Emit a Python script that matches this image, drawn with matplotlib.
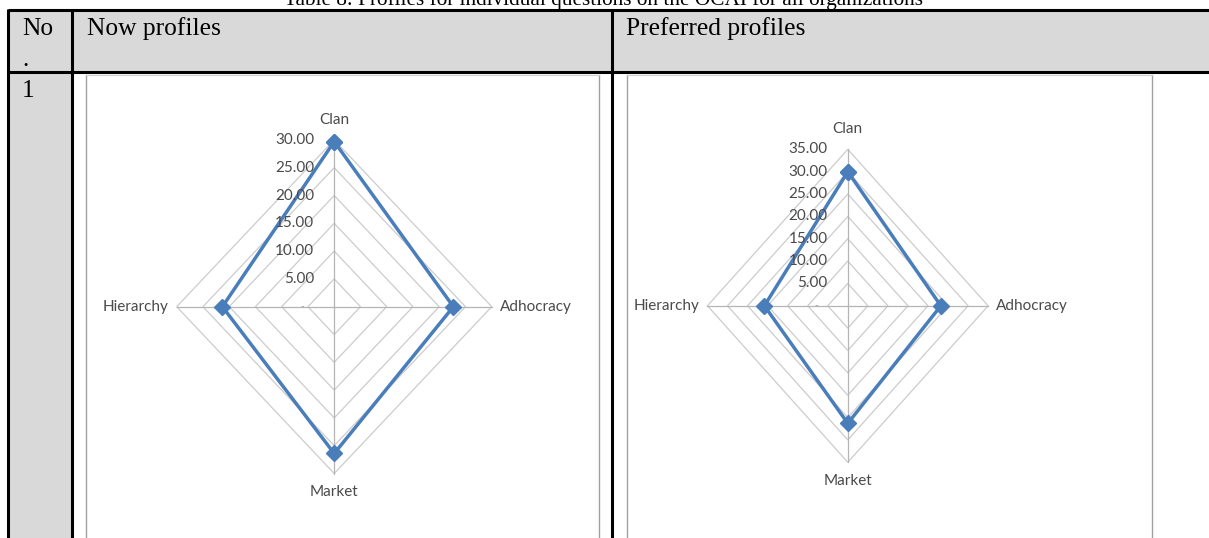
import numpy as np
import matplotlib
matplotlib.use("Agg")
import matplotlib.pyplot as plt
from matplotlib.patches import Rectangle, Polygon

# ---------------- data ----------------
categories = ["Clan", "Adhocracy", "Market", "Hierarchy"]
now_values = [29.7, 22.7, 26.4, 21.3]
preferred_values = [30.0, 23.2, 26.3, 20.8]
now_ticks = [5, 10, 15, 20, 25, 30]
preferred_ticks = [5, 10, 15, 20, 25, 30, 35]
now_tick_labels = ["5.00", "10.00", "15.00", "20.00", "25.00", "30.00"]
preferred_tick_labels = ["5.00", "10.00", "15.00", "20.00", "25.00", "30.00", "35.00"]
title_text = "Table 8: Profiles for individual questions on the OCAI for all organizations"
header_no = ["No", "."]
header_now = "Now profiles"
header_pref = "Preferred profiles"
row_no = "1"

W, H = 1209, 538
DPI = 100
fig = plt.figure(figsize=(W / DPI, H / DPI), dpi=DPI)
fig.patch.set_facecolor("white")

# ---------------- table background (pixel coords) ----------------
bg = fig.add_axes([0, 0, 1, 1])
bg.set_xlim(0, W)
bg.set_ylim(H, 0)
bg.axis("off")

gray = "#d9d9d9"
bg.add_patch(Rectangle((8, 10), W - 8, 62, facecolor=gray, edgecolor="none"))
bg.add_patch(Rectangle((8, 72), 64, H - 72, facecolor=gray, edgecolor="none"))

lw_tab = 2.2
bg.plot([8, W], [10, 10], color="black", lw=lw_tab, solid_capstyle="butt")
bg.plot([8, W], [72, 72], color="black", lw=lw_tab, solid_capstyle="butt")
bg.plot([8, 8], [9, H], color="black", lw=lw_tab, solid_capstyle="butt")
bg.plot([72, 72], [9, H], color="black", lw=lw_tab, solid_capstyle="butt")
bg.plot([612, 612], [9, H], color="black", lw=lw_tab, solid_capstyle="butt")

# chart image frames
frame_c = "#a0a0a0"
for x0, x1 in [(86, 599), (626.5, 1152)]:
    bg.plot([x0, x0], [74.5, H], color=frame_c, lw=1.0)
    bg.plot([x1, x1], [74.5, H], color=frame_c, lw=1.0)
    bg.plot([x0, x1], [74.5, 74.5], color="#d0d0d0", lw=0.8)

serif = ["Liberation Serif", "DejaVu Serif"]
hdr_fs = 18.4
bg.text(604, 5, title_text, family=serif, fontsize=15.3, ha="center", va="baseline", color="black")
bg.text(22, 35, header_no[0], family=serif, fontsize=hdr_fs, ha="left", va="baseline")
bg.text(22, 66, header_no[1], family=serif, fontsize=hdr_fs, ha="left", va="baseline")
bg.text(87, 35, header_now, family=serif, fontsize=hdr_fs, ha="left", va="baseline")
bg.text(626, 35, header_pref, family=serif, fontsize=hdr_fs, ha="left", va="baseline")
bg.text(22, 97, row_no, family=serif, fontsize=hdr_fs, ha="left", va="baseline")

# ---------------- radar charts ----------------
sans = ["Lato", "DejaVu Sans"]
txt_c = "#4a4a4a"
line_c = "#4a7ebb"
lab_fs = 11.0
angles = np.pi / 2 - np.arange(len(categories)) * 2 * np.pi / len(categories)


def radar(cx, cy, sx, sy, ticks, tick_labels, values):
    hw, hh = 260, 230
    ax = fig.add_axes([(cx - hw) / W, 1 - (cy + hh) / H, 2 * hw / W, 2 * hh / H])
    ax.set_xlim(-hw / sx, hw / sx)
    ax.set_ylim(-hh / sy, hh / sy)
    ax.axis("off")
    ax.patch.set_alpha(0)
    vmax = ticks[-1]
    cosA, sinA = np.cos(angles), np.sin(angles)
    # rings
    for t in ticks:
        pts = np.column_stack([t * cosA, t * sinA])
        ax.add_patch(Polygon(pts, closed=True, fill=False, edgecolor="#cccccc", lw=0.9))
    # spokes
    for ca, sa in zip(cosA, sinA):
        ax.plot([0, vmax * ca], [0, vmax * sa], color="#b5b5b5", lw=0.9)
    # tick labels along the Clan axis
    for t, lab in zip(ticks, tick_labels):
        ax.annotate(lab, xy=(0, t), xytext=(-20, 0), textcoords="offset pixels",
                    ha="right", va="center", family=sans, fontsize=lab_fs, color=txt_c)
    ax.annotate("-", xy=(0, 0), xytext=(-30, 0), textcoords="offset pixels",
                ha="right", va="center", family=sans, fontsize=7, color="#9a9a9a")
    # category labels
    offs = [(0, 20, "center", "center"), (8, 0, "left", "center"),
            (0, -19, "center", "center"), (-8, 0, "right", "center")]
    for cat, ca, sa, (dx, dy, ha, va) in zip(categories, cosA, sinA, offs):
        ax.annotate(cat, xy=(vmax * ca, vmax * sa), xytext=(dx, dy), textcoords="offset pixels",
                    ha=ha, va=va, family=sans, fontsize=lab_fs, color=txt_c)
    # data
    v = np.array(values + values[:1])
    a = np.concatenate([angles, angles[:1]])
    ax.plot(v * np.cos(a), v * np.sin(a), color=line_c, lw=2.5, marker="D",
            markersize=8, markerfacecolor=line_c, markeredgecolor=line_c, clip_on=False)
    return ax


radar(334.2, 306.7, 5.25, 5.56, now_ticks, now_tick_labels, now_values)
radar(847.8, 305.8, 4.01, 4.47, preferred_ticks, preferred_tick_labels, preferred_values)

fig.savefig("out.png", dpi=DPI)
